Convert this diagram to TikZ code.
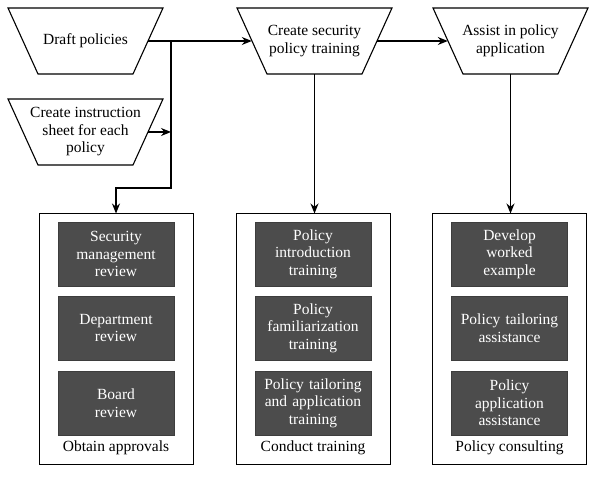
\documentclass[tikz,border=0pt]{standalone}
\usepackage{fontspec}
\setmainfont{Liberation Serif}
\newfontfamily\labelfont{Liberation Serif}
\usetikzlibrary{arrows.meta}
\definecolor{darkbox}{RGB}{76,76,76}
\tikzset{
  traptext/.style={minimum width=125pt, minimum height=66pt, inner sep=0pt,
    align=center, font=\labelfont\fontsize{15.5}{17.5}\selectfont},
  trapline/.style={line width=1.1pt, line join=miter},
  group/.style={draw, line width=1pt, minimum width=154pt, minimum height=250pt, inner sep=0pt},
  task/.style={fill=darkbox, draw=darkbox!80!black, minimum width=116pt, minimum height=64pt,
    inner sep=0pt, text width=116pt, align=center, text=white,
    font=\labelfont\fontsize{15.5}{17.5}\selectfont},
  grouplabel/.style={font=\labelfont\fontsize{15.5}{17.5}\selectfont, inner sep=0pt},
  conn/.style={line width=1.2pt, -{Stealth[length=10pt,width=8pt]}},
}
\newcommand{\trapshape}[1]{%
  \draw[trapline] (#1.center) +(-77.5,-33) -- +(77.5,-33) -- +(47.5,33) -- +(-47.5,33) -- cycle;}
\begin{document}
\begin{tikzpicture}[x=1pt,y=-1pt]
\useasboundingbox (0,0) rectangle (600,478);
% top row
\node[traptext] (dp) at (85.5,41) {Draft policies};
\node[traptext] (ci) at (85.5,132) {Create instruction\\sheet for each\\policy};
\node[traptext] (cs) at (314.5,41) {Create security\\policy training};
\node[traptext] (ap) at (510.5,41) {Assist in policy\\application};
\trapshape{dp}
\trapshape{ci}
\trapshape{cs}
\trapshape{ap}
% groups
\node[group] (b1) at (116,339) {};
\node[group] (b2) at (313,339) {};
\node[group] (b3) at (509.5,339) {};
% tasks
\node[task] (t11) at (116,254) {Security\\management\\review};
\node[task] (t12) at (116,328) {Department\\review};
\node[task] (t13) at (116,403) {Board\\review};
\node[task] (t21) at (313,254) {Policy\\introduction\\training};
\node[task] (t22) at (313,328) {Policy\\familiarization\\training};
\node[task] (t23) at (313,403) {Policy tailoring\\and application\\training};
\node[task] (t31) at (509.5,254) {Develop\\worked\\example};
\node[task] (t32) at (509.5,328) {Policy tailoring\\assistance};
\node[task] (t33) at (509.5,403) {Policy\\application\\assistance};
\node[grouplabel] (l1) at (116,448) {Obtain approvals};
\node[grouplabel] (l2) at (313,448) {Conduct training};
\node[grouplabel] (l3) at (509.5,448) {Policy consulting};
% connectors
\coordinate (j1) at (171,41);
\coordinate (j2) at (171,188);
\draw[conn] (dp.east) -- (cs.west);
\draw[conn] (cs.east) -- (ap.west);
\draw[conn] (ci.east) -- (ci.east -| j1);
\draw[conn] (j1) -- (j2) -| (b1.north);
\draw[conn] (cs.south) -- (cs.south |- b2.north);
\draw[conn] (ap.south) -- (ap.south |- b3.north);
\end{tikzpicture}
\end{document}
